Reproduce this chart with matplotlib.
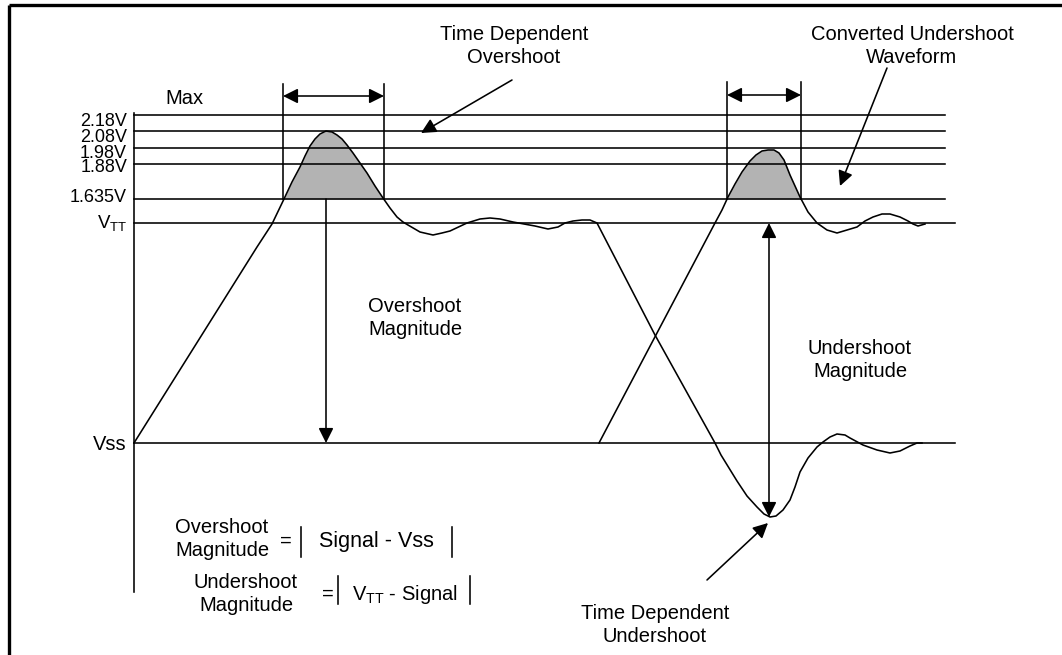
import numpy as np
import matplotlib
matplotlib.use("Agg")
import matplotlib.pyplot as plt

plt.rcParams['font.family'] = ['Liberation Sans', 'DejaVu Sans']
plt.rcParams['mathtext.fontset'] = 'custom'
plt.rcParams['mathtext.rm'] = 'Liberation Sans'
plt.rcParams['mathtext.it'] = 'Liberation Sans'

# Drawing space: x = time (px), y = level (px, grows downward)
level_labels = ['2.18V', '2.08V', '1.98V', '1.88V', '1.635V']
level_y = [115, 131, 148, 164, 199]
vtt_y = 223
vss_y = 443

# first signal: overshoot, ringing around VTT, falling edge, undershoot, ringing around Vss
wave1_x = [134, 257, 272, 284, 292, 300, 305, 310, 315, 320, 326, 332, 337, 342, 347, 353,
           360, 367, 375, 383, 390, 397, 403, 408, 420, 433, 442, 450, 467, 480, 490, 500,
           513, 535, 548, 558, 565, 573, 582, 590, 597,
           655, 715, 721, 729, 737, 747, 757, 764, 770, 776, 783, 790, 795, 800, 808, 817, 823,
           830, 837, 845, 850, 863, 877, 890, 900, 910, 917, 922]
wave1_y = [443, 247, 224, 199, 182, 167, 156, 146, 139, 134, 131, 132, 135, 139, 145, 153,
           163, 173, 186, 198, 208, 217, 222, 225, 232, 235, 233, 231, 223, 219, 218, 219,
           222, 226, 229, 227, 223, 221, 220, 220, 223,
           335, 443, 455, 468, 481, 496, 507, 514, 517, 516, 510, 500, 487, 472, 458, 447, 442,
           437, 434, 435, 438, 445, 450, 453, 451, 446, 443, 443]

# second signal: rising edge with converted overshoot and ringing around VTT
wave2_x = [599, 715, 722, 728, 735, 742, 750, 756, 762, 768, 774, 779, 784, 790, 795, 800,
           808, 817, 827, 837, 847, 857, 865, 873, 882, 890, 900, 908, 913, 918, 925]
wave2_y = [443, 223, 210, 197, 184, 172, 161, 155, 151, 150, 150, 153, 160, 175, 186, 197,
           212, 223, 230, 233, 230, 227, 221, 217, 214, 214, 217, 221, 224, 226, 224]

lw = 1.15
fs = 14.5

fig = plt.figure(figsize=(10.62, 6.55), dpi=100)
ax = fig.add_axes([0, 0, 1, 1])
ax.set_xlim(0, 1062)
ax.set_ylim(655, 0)
ax.axis('off')

# frame
ax.plot([9, 9], [5, 655], color='black', lw=2.4, solid_capstyle='butt')
ax.plot([9, 1062], [5, 5], color='black', lw=2.4, solid_capstyle='butt')

# vertical axis and reference levels
ax.plot([134, 134], [113, 592], color='black', lw=lw)
label_pos = [122, 138, 153, 168, 197]
for lab, y, ty in zip(level_labels, level_y, label_pos):
    ax.plot([134, 945], [y, y], color='black', lw=lw)
    ax.text(127, ty, lab, ha='right', va='center', fontsize=13)
ax.plot([134, 955], [vtt_y, vtt_y], color='black', lw=lw)
ax.plot([134, 955], [vss_y, vss_y], color='black', lw=lw)
ax.text(127, vtt_y, r'V$_{\mathrm{TT}}$', ha='right', va='center', fontsize=13.5)
ax.text(127, vss_y + 2, 'Vss', ha='right', va='center', fontsize=fs)
ax.text(165, 98, 'Max', ha='left', va='center', fontsize=fs)

# gray area above 1.635V
w1x, w1y = np.array(wave1_x), np.array(wave1_y)
w2x, w2y = np.array(wave2_x), np.array(wave2_y)
thr = level_y[-1]
ax.fill_between(w1x, w1y, thr, where=w1y <= thr, interpolate=True, color='#b3b3b3', lw=0)
ax.fill_between(w2x, w2y, thr, where=w2y <= thr, interpolate=True, color='#b3b3b3', lw=0)
ax.plot(w1x, w1y, color='black', lw=lw, solid_joinstyle='round')
ax.plot(w2x, w2y, color='black', lw=lw, solid_joinstyle='round')

# time windows
for x0, x1, ytop, yarr in [(283, 384, 84, 96), (727, 801, 82, 95)]:
    ax.plot([x0, x0], [ytop, thr], color='black', lw=lw)
    ax.plot([x1, x1], [ytop, thr], color='black', lw=lw)
    ax.annotate('', xy=(x1, yarr), xytext=(x0, yarr),
                arrowprops=dict(arrowstyle='<|-|>,head_length=0.9,head_width=0.45',
                                color='black', lw=lw, shrinkA=0, shrinkB=0))

def arrow(x0, y0, x1, y1, style='-|>,head_length=0.9,head_width=0.45'):
    ax.annotate('', xy=(x1, y1), xytext=(x0, y0),
                arrowprops=dict(arrowstyle=style, color='black', lw=lw, shrinkA=0, shrinkB=0))

arrow(326, thr, 326, vss_y)
arrow(769, vtt_y, 769, 517, style='<|-|>,head_length=0.9,head_width=0.45')
arrow(512, 80, 421, 133)
arrow(887, 68, 840, 186)
arrow(707, 580, 768, 523)

# labels
ax.text(514, 46, 'Time Dependent\nOvershoot', ha='center', va='center', fontsize=fs, linespacing=1.3)
ax.text(912, 46, 'Converted Undershoot\nWaveform', ha='center', va='center', fontsize=fs, linespacing=1.3)
ax.text(415, 318, 'Overshoot\nMagnitude', ha='center', va='center', fontsize=fs, linespacing=1.3)
ax.text(860, 360, 'Undershoot\nMagnitude', ha='center', va='center', fontsize=fs, linespacing=1.3)
ax.text(655, 625, 'Time Dependent\nUndershoot', ha='center', va='center', fontsize=fs, linespacing=1.3)

# formulas
ax.text(222, 539, 'Overshoot\nMagnitude', ha='center', va='center', fontsize=fs, linespacing=1.3)
ax.text(286, 541, '=', ha='center', va='center', fontsize=fs)
ax.plot([301, 301], [527, 557], color='black', lw=lw)
ax.text(376, 541, 'Signal - Vss', ha='center', va='center', fontsize=15.5)
ax.plot([452, 452], [527, 557], color='black', lw=lw)

ax.text(246, 594, 'Undershoot\nMagnitude', ha='center', va='center', fontsize=fs, linespacing=1.3)
ax.text(328, 594, '=', ha='center', va='center', fontsize=fs)
ax.plot([338, 338], [576, 604], color='black', lw=lw)
ax.text(405, 594, r'V$_{\mathrm{TT}}$ - Signal', ha='center', va='center', fontsize=fs)
ax.plot([470, 470], [576, 604], color='black', lw=lw)

fig.savefig('out.png', dpi=100)
